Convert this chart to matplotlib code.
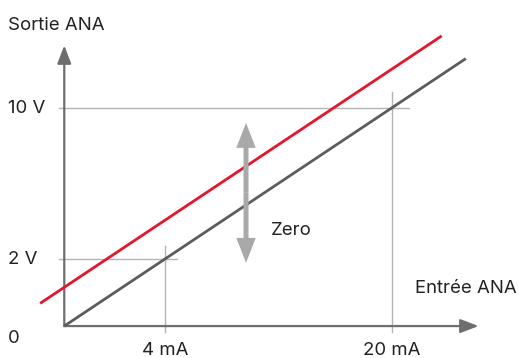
import matplotlib
matplotlib.use("Agg")
import matplotlib.pyplot as plt
from matplotlib.patches import FancyArrowPatch

plt.rcParams['font.family'] = ['Inter', 'DejaVu Sans']

# Transfer characteristic: input current (mA) -> output voltage (V)
x_ticks = [4, 20]
x_tick_labels = ["4 mA", "20 mA"]
y_ticks = [2, 10]
y_tick_labels = ["2 V", "10 V"]

origin = (-3.1, -1.55)
base_x = [-3.1, 25.2]
base_y = [-1.55, 12.6]
shift_x = [-4.8, 23.5]
shift_y = [-0.35, 13.8]

axis_tip_x = 26.1
axis_tip_y = 13.3

fig = plt.figure(figsize=(5.19, 3.58), dpi=100)
ax = fig.add_axes([0, 0, 1, 1])
ax.set_xlim(-7.63, 28.95)
ax.set_ylim(-3.24, 15.70)
ax.axis('off')

guide = dict(color='#b4b4b4', lw=1.0, zorder=1)
# reference guides
ax.plot([-3.47, 4.85], [2, 2], **guide)
ax.plot([4, 4], [-1.86, 2.69], **guide)
ax.plot([-3.47, 21.2], [10, 10], **guide)
ax.plot([20, 20], [-1.86, 10.84], **guide)

# axes with arrow heads
axis_col = '#6e6e6e'
for end in [(axis_tip_x, origin[1]), (origin[0], axis_tip_y)]:
    ax.add_patch(FancyArrowPatch(origin, end,
                                 arrowstyle='-|>,head_length=11,head_width=4.2',
                                 mutation_scale=1, color=axis_col, lw=1.6,
                                 shrinkA=0, shrinkB=0, zorder=2))

# characteristic lines
ax.plot(base_x, base_y, color='#5c5c5c', lw=2.0, solid_capstyle='butt', zorder=3)
ax.plot(shift_x, shift_y, color='#e3172b', lw=2.0, solid_capstyle='butt', zorder=3)

# zero offset double arrow
arrow_x = 9.71
mid = 5.5
for tip in [9.2, 1.79]:
    ax.add_patch(FancyArrowPatch((arrow_x, mid), (arrow_x, tip),
                                 arrowstyle='simple,head_length=18,head_width=14,tail_width=3.6',
                                 mutation_scale=1, color='#a9a9a9', lw=0,
                                 shrinkA=0, shrinkB=0, zorder=4))

txt = dict(color='#222222', fontsize=13.4)
ax.text(-7.07, 14.33, "Sortie ANA", ha='left', va='center', **txt)
for v, lab in zip(y_ticks, y_tick_labels):
    ax.text(-7.07, v - 0.05, lab, ha='left', va='center', **txt)
ax.text(-7.07, -2.2, "0", ha='left', va='center', **txt)
for m, lab in zip(x_ticks, x_tick_labels):
    ax.text(m, -2.84, lab, ha='center', va='center', **txt)
ax.text(28.8, 0.45, "Entrée ANA", ha='right', va='center', **txt)
ax.text(11.45, 3.5, "Zero", ha='left', va='center', **txt)

fig.savefig("out.png", dpi=100)
